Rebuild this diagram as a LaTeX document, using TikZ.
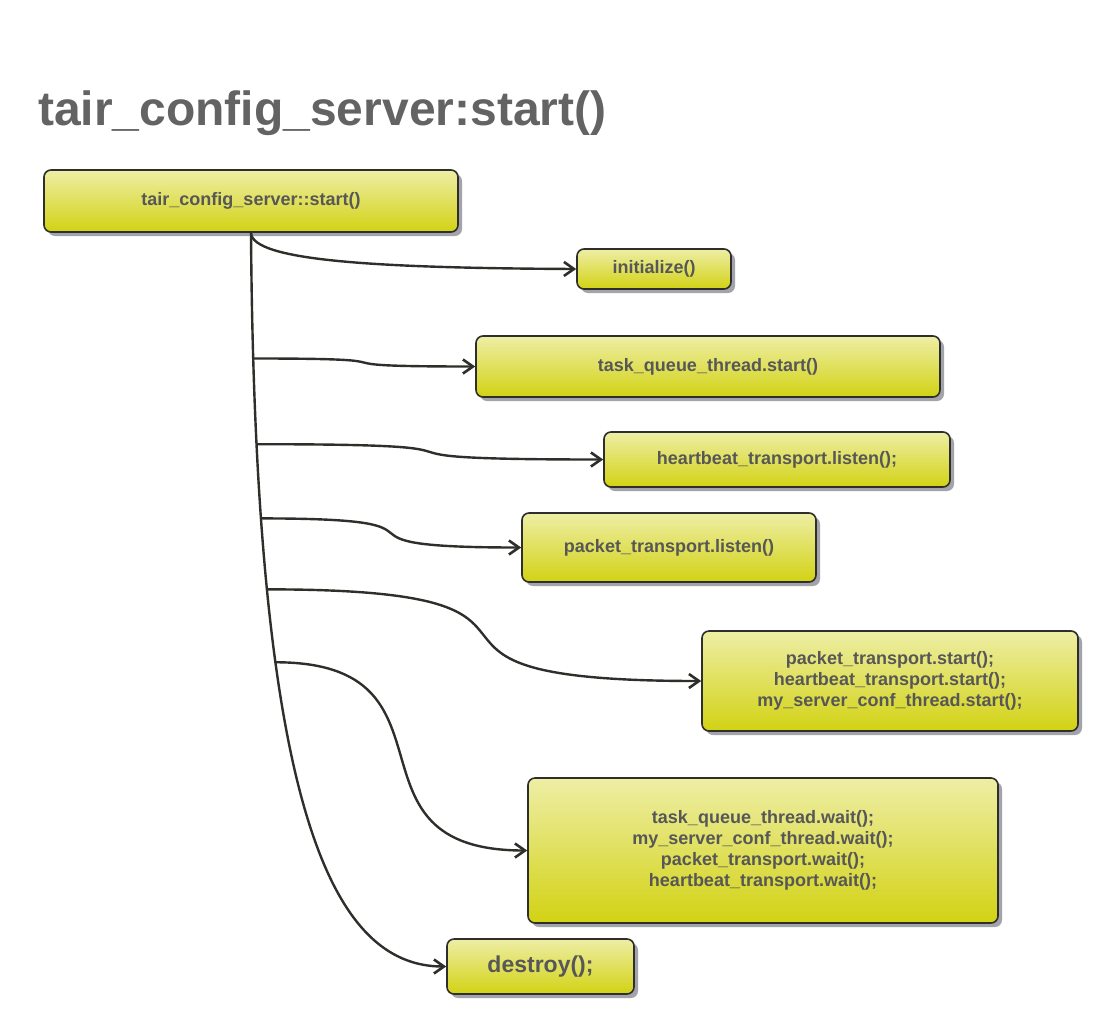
\documentclass[tikz,border=0pt]{standalone}
\usepackage{fontspec}
\setmainfont{Liberation Sans}
\usepackage{xcolor}
\usetikzlibrary{arrows.meta, shadows}
\definecolor{boxtop}{HTML}{EEEEA6}
\definecolor{boxbottom}{HTML}{D2D214}
\definecolor{boxline}{HTML}{2E2E2A}
\definecolor{labelgrey}{HTML}{575757}
\definecolor{titlegrey}{HTML}{636363}
\definecolor{shadowgrey}{HTML}{A3A3AB}
\tikzset{
	callbox/.style = {draw = boxline, line width = 1.6pt, rounded corners = 7pt,
		top color = boxtop, bottom color = boxbottom,
		drop shadow = {shadow xshift = 4pt, shadow yshift = -4pt, fill = shadowgrey, opacity = 1},
		font = \bfseries\fontsize{18}{21}\selectfont, text = labelgrey, align = center, inner sep = 0pt},
	callline/.style = {draw = boxline, line width = 2.4pt,
		-{Straight Barb[length = 10pt, width = 14pt, line width = 2.6pt]}}
}

\begin{document}
\begin{tikzpicture}[x = 1pt, y = -1pt]
	    \useasboundingbox (0,0) rectangle (1098,1013);
	    \node[anchor = base west, inner sep = 0pt, text = titlegrey, font = \bfseries\fontsize{48}{56}\selectfont] (title) at (38,125) {tair\_config\_server:start()};
	    \node[callbox, minimum width = 414pt, minimum height = 62pt] (root) at (251,201) {tair\_config\_server::start()};
	    \node[callbox, minimum width = 154pt, minimum height = 40pt] (init) at (654,269) {initialize()};
	    \node[callbox, minimum width = 464pt, minimum height = 61pt] (taskq) at (708,366.5) {task\_queue\_thread.start()};
	    \node[callbox, minimum width = 346pt, minimum height = 55pt] (hblisten) at (777,459.5) {heartbeat\_transport.listen();};
	    \node[callbox, minimum width = 294pt, minimum height = 69pt] (pklisten) at (669,547.5) {packet\_transport.listen()};
	    \node[callbox, minimum width = 376pt, minimum height = 100pt] (startall) at (890,681) {packet\_transport.start();\\heartbeat\_transport.start();\\my\_server\_conf\_thread.start();};
	    \node[callbox, minimum width = 470pt, minimum height = 145pt] (waitall) at (763,850.5) {task\_queue\_thread.wait();\\my\_server\_conf\_thread.wait();\\packet\_transport.wait();\\heartbeat\_transport.wait();};
	    \node[callbox, minimum width = 187pt, minimum height = 55pt, font = \bfseries\fontsize{23}{27}\selectfont] (destroy) at (540.5,966.5) {destroy();};
	    \draw[callline] (root.south) .. controls +(1,28) and +(-200,-1) .. (init.west);
	    \draw[callline] (root.south) .. controls +(4,568) and +(-117,0) .. (destroy.west)
	        coordinate[pos = 0.078] (b1) coordinate[pos = 0.137] (b2) coordinate[pos = 0.193] (b3)
	        coordinate[pos = 0.252] (b4) coordinate[pos = 0.32] (b5);
	    \draw[callline] (b1) .. controls +(188,0) and +(-188,0) .. (taskq.west);
	    \draw[callline] (b2) .. controls +(295,0) and +(-295,0) .. (hblisten.west);
	    \draw[callline] (b3) .. controls +(222,0) and +(-222,0) .. (pklisten.west);
	    \draw[callline] (b4) .. controls +(360,0) and +(-360,0) .. (startall.west);
	    \draw[callline] (b5) .. controls +(195,0) and +(-195,0) .. (waitall.west);
	\end{tikzpicture}
\end{document}
